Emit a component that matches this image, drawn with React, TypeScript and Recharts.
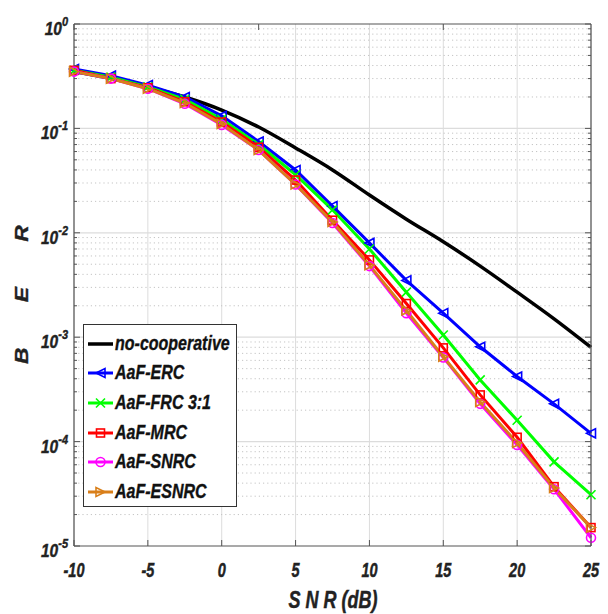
import React from "react";
import {
  LineChart,
  Line,
  XAxis,
  YAxis,
  CartesianGrid,
  ReferenceLine,
  Legend,
} from "recharts";

const FONT = '"Liberation Sans", Arial, sans-serif';

// SNR (dB) sample points
const snr = [-10, -7.5, -5, -2.5, 0, 2.5, 5, 7.5, 10, 12.5, 15, 17.5, 20, 22.5, 25];

// BER curves
const noCoop = [0.35, 0.3, 0.25, 0.2, 0.15, 0.103, 0.065, 0.04, 0.023, 0.0135, 0.0082, 0.0048, 0.0027, 0.0015, 0.0008];
const erc = [0.37, 0.32, 0.26, 0.2, 0.132, 0.075, 0.04, 0.018, 0.008, 0.0035, 0.0017, 0.00081, 0.00042, 0.00023, 0.00012];
const frc = [0.36, 0.31, 0.25, 0.19, 0.122, 0.07, 0.036, 0.0166, 0.007, 0.0027, 0.00105, 0.00039, 0.00016, 0.000064, 0.000031];
const mrc = [0.36, 0.3, 0.245, 0.18, 0.115, 0.066, 0.032, 0.0132, 0.0055, 0.0021, 0.00079, 0.00028, 0.00011, 0.000037, 0.000015];
const snrc = [0.35, 0.3, 0.24, 0.172, 0.108, 0.062, 0.029, 0.0124, 0.0048, 0.0017, 0.00064, 0.00023, 0.000093, 0.000035, 0.000012];
const esnrc = [0.35, 0.3, 0.24, 0.175, 0.11, 0.062, 0.029, 0.0127, 0.0049, 0.0018, 0.00065, 0.00024, 0.000097, 0.000036, 0.000015];

const xTicks = [-10, -5, 0, 5, 10, 15, 20, 25];
const decades = [1e-5, 1e-4, 1e-3, 1e-2, 1e-1, 1];
const minors = [1e-5, 1e-4, 1e-3, 1e-2, 1e-1].flatMap((d) =>
  [2, 3, 4, 5, 6, 7, 8, 9].map((k) => k * d)
);
const yTicks = [...decades, ...minors].sort((a, b) => a - b);

const series = [
  { key: "noCoop", name: "no-cooperative", color: "#000000", marker: "none", width: 3.5, curve: "monotone" },
  { key: "erc", name: "AaF-ERC", color: "#0000ff", marker: "left", width: 3, curve: "linear" },
  { key: "frc", name: "AaF-FRC 3:1", color: "#00ff00", marker: "x", width: 3, curve: "linear" },
  { key: "mrc", name: "AaF-MRC", color: "#ff0000", marker: "square", width: 3, curve: "linear" },
  { key: "snrc", name: "AaF-SNRC", color: "#ff00ff", marker: "circle", width: 3, curve: "linear" },
  { key: "esnrc", name: "AaF-ESNRC", color: "#d97f1a", marker: "right", width: 3, curve: "linear" },
];

const data = snr.map((x, i) => ({
  snr: x,
  noCoop: noCoop[i],
  erc: erc[i],
  frc: frc[i],
  mrc: mrc[i],
  snrc: snrc[i],
  esnrc: esnrc[i],
}));

const isDecade = (v: number) => {
  const l = Math.log10(v);
  return Math.abs(l - Math.round(l)) < 1e-9;
};

const textStyle = {
  fontFamily: FONT,
  fontWeight: "bold" as const,
  fontStyle: "italic" as const,
  fill: "#222",
  stroke: "#222",
  strokeWidth: 0.35,
};

function Marker({ kind, cx, cy, color }: any) {
  if (cx == null || cy == null || kind === "none") return null;
  const s = 4.5;
  const common = { fill: "none", stroke: color, strokeWidth: 1.6 };
  if (kind === "circle") return <circle cx={cx} cy={cy} r={s} {...common} />;
  if (kind === "square")
    return <rect x={cx - s + 0.5} y={cy - s + 0.5} width={2 * s - 1} height={2 * s - 1} {...common} />;
  if (kind === "x")
    return (
      <path d={`M${cx - s},${cy - s}L${cx + s},${cy + s}M${cx - s},${cy + s}L${cx + s},${cy - s}`} {...common} />
    );
  if (kind === "left")
    return <path d={`M${cx - s},${cy}L${cx + s},${cy - s}L${cx + s},${cy + s}Z`} {...common} />;
  return <path d={`M${cx + s},${cy}L${cx - s},${cy - s}L${cx - s},${cy + s}Z`} {...common} />;
}

function LeftTick({ x, y, payload }: any) {
  const v = payload.value;
  const major = isDecade(v);
  const exp = Math.round(Math.log10(v));
  return (
    <g>
      <line x1={x} y1={y} x2={x + (major ? 6 : 3)} y2={y} stroke="#555" strokeWidth={1} />
      {major && (
        <g transform={`translate(${x - 6},${y + 11}) scale(1,1.2)`}>
          <text textAnchor="end" fontSize={15.5} {...textStyle}>
            10
            <tspan dy={-7.5} fontSize={11}>
              {exp}
            </tspan>
          </text>
        </g>
      )}
    </g>
  );
}

function RightTick({ x, y, payload }: any) {
  const major = isDecade(payload.value);
  return <line x1={x} y1={y} x2={x - (major ? 6 : 3)} y2={y} stroke="#555" strokeWidth={1} />;
}

function BottomTick({ x, y, payload }: any) {
  return (
    <g>
      <line x1={x} y1={y} x2={x} y2={y - 6} stroke="#555" strokeWidth={1} />
      <g transform={`translate(${x},${y + 31}) scale(1,1.4)`}>
        <text textAnchor="middle" fontSize={14.5} {...textStyle}>
          {payload.value}
        </text>
      </g>
    </g>
  );
}

function TopTick({ x, y }: any) {
  return <line x1={x} y1={y} x2={x} y2={y + 6} stroke="#555" strokeWidth={1} />;
}

function LegendBox() {
  return (
    <div
      style={{
        border: "1px solid #333",
        background: "#fff",
        width: 152,
        height: 177,
        paddingTop: 4,
        boxSizing: "content-box",
        fontFamily: FONT,
      }}
    >
      {series.map((s) => (
        <div key={s.key} style={{ display: "flex", alignItems: "center", height: 29.6 }}>
          <svg width={30} height={14} style={{ flex: "none" }}>
            <line x1={4} y1={7} x2={29} y2={7} stroke={s.color} strokeWidth={s.width} />
            <Marker kind={s.marker} cx={16.5} cy={7} color={s.color} />
          </svg>
          <span
            style={{
              fontSize: 16,
              fontWeight: "bold",
              fontStyle: "italic",
              color: "#111",
              display: "inline-block",
              transform: "scale(1,1.25)",
              whiteSpace: "nowrap",
              WebkitTextStroke: "0.3px #111",
              marginLeft: 1,
            }}
          >
            {s.name}
          </span>
        </div>
      ))}
    </div>
  );
}

export default function App() {
  return (
    <div style={{ position: "absolute", left: 0, top: 0, background: "#fff" }}>
      <LineChart width={608} height={614} data={data} margin={{ top: 0, right: 0, bottom: 0, left: 0 }}>
        <CartesianGrid horizontal={false} stroke="#dcdcdc" strokeWidth={1} />
        {minors.map((v) => (
          <ReferenceLine key={`mn${v}`} y={v} stroke="#c4c4c4" strokeDasharray="1.2 3" strokeWidth={1} />
        ))}
        {decades.slice(1, 5).map((v) => (
          <ReferenceLine key={`mj${v}`} y={v} stroke="#dcdcdc" strokeWidth={1.2} />
        ))}
        <XAxis
          dataKey="snr"
          type="number"
          domain={[-10, 25]}
          ticks={xTicks}
          interval={0}
          height={68}
          tickSize={0}
          tickMargin={0}
          tickLine={false}
          axisLine={{ stroke: "#555", strokeWidth: 1.2 }}
          tick={<BottomTick />}
          label={
            <g transform="translate(333,608) scale(1,1.35)">
              <text textAnchor="middle" fontSize={18} {...textStyle}>
                S N R (dB)
              </text>
            </g>
          }
        />
        <XAxis
          xAxisId="t"
          orientation="top"
          type="number"
          domain={[-10, 25]}
          ticks={xTicks}
          interval={0}
          height={24}
          tickSize={0}
          tickMargin={0}
          tickLine={false}
          axisLine={{ stroke: "#555", strokeWidth: 1.2 }}
          tick={<TopTick />}
        />
        <YAxis
          type="number"
          scale="log"
          domain={[1e-5, 1]}
          allowDataOverflow
          ticks={yTicks}
          interval={0}
          width={74}
          tickSize={0}
          tickMargin={0}
          tickLine={false}
          axisLine={{ stroke: "#555", strokeWidth: 1.2 }}
          tick={<LeftTick />}
          label={
            <g transform="translate(28,285) rotate(-90) scale(1.3,1)">
              <text textAnchor="middle" fontSize={17.5} letterSpacing={15} {...textStyle}>
                B E R
              </text>
            </g>
          }
        />
        <YAxis
          yAxisId="r"
          orientation="right"
          type="number"
          scale="log"
          domain={[1e-5, 1]}
          allowDataOverflow
          ticks={yTicks}
          interval={0}
          width={17}
          tickSize={0}
          tickMargin={0}
          tickLine={false}
          axisLine={{ stroke: "#555", strokeWidth: 1.2 }}
          tick={<RightTick />}
        />
        {series.map((s) => (
          <Line
            key={s.key}
            dataKey={s.key}
            name={s.name}
            type={s.curve as any}
            stroke={s.color}
            strokeWidth={s.width}
            isAnimationActive={false}
            dot={(p: any) => (
              <Marker key={`${s.key}-${p.index}`} kind={s.marker} cx={p.cx} cy={p.cy} color={s.color} />
            )}
            activeDot={false}
          />
        ))}
        <Legend
          layout="horizontal"
          verticalAlign="middle"
          align="center"
          wrapperStyle={{ left: 83, top: 324, width: 154, height: 183 }}
          content={() => <LegendBox />}
        />
      </LineChart>
    </div>
  );
}
